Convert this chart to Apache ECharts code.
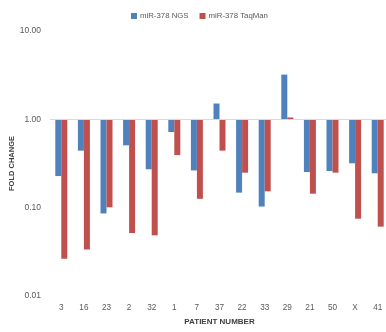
<!DOCTYPE html>
<html>
<head>
<meta charset="utf-8">
<script src="https://cdn.jsdelivr.net/npm/echarts@6/dist/echarts.min.js"></script>
<style>
  html, body { margin: 0; padding: 0; background: #fff; }
  #chart { width: 386px; height: 332px; }
</style>
</head>
<body>
<div id="chart"></div>
<script>
// Patient identifiers along the x axis
const patients = ['3', '16', '23', '2', '32', '1', '7', '37', '22', '33', '29', '21', '50', 'X', '41'];

// Fold change of miR-378 measured by next-generation sequencing
const ngsFold = [0.228, 0.442, 0.086, 0.508, 0.272, 0.719, 0.264, 1.51, 0.148, 0.103, 3.21, 0.253, 0.260, 0.318, 0.245];

// Fold change of miR-378 measured by TaqMan qPCR
const taqmanFold = [0.0264, 0.0337, 0.101, 0.0516, 0.0486, 0.394, 0.126, 0.442, 0.249, 0.153, 1.05, 0.144, 0.249, 0.075, 0.061];

// Log-scale tick values on the fold change axis
const foldTicks = [0.01, 0.1, 1, 10];

const textColor = '#595959';
const fontFamily = '"Liberation Sans", Arial, sans-serif';

const chart = echarts.init(document.getElementById('chart'));
chart.setOption({
  animation: false,
  textStyle: { fontFamily: fontFamily },
  legend: {
    top: 7,
    left: 126,
    itemWidth: 6,
    itemHeight: 6,
    itemGap: 11,
    icon: 'rect',
    textStyle: { fontSize: 7.8, color: textColor, padding: [0, 0, 0, -2] },
    data: ['miR-378 NGS', 'miR-378 TaqMan']
  },
  grid: { left: 50, right: -3, top: 31, bottom: 36, outerBoundsMode: 'none', containLabel: false },
  xAxis: {
    type: 'category',
    data: patients,
    axisLine: { show: false },
    axisTick: { show: false },
    axisLabel: { color: textColor, fontSize: 8.2, margin: 8 },
    name: 'PATIENT NUMBER',
    nameLocation: 'middle',
    nameGap: 22,
    nameMoveOverlap: false,
    nameTextStyle: { color: '#404040', fontSize: 8, fontWeight: 'bold' }
  },
  yAxis: {
    type: 'log',
    logBase: 10,
    min: foldTicks[0],
    max: foldTicks[foldTicks.length - 1],
    axisLine: { show: false },
    axisTick: { show: false },
    splitLine: { show: false },
    axisLabel: {
      color: textColor,
      fontSize: 8.5,
      margin: 9,
      formatter: function (v) { return v.toFixed(2); }
    },
    name: 'FOLD CHANGE',
    nameLocation: 'middle',
    nameGap: 34,
    nameRotate: 90,
    nameMoveOverlap: false,
    nameTextStyle: { color: '#404040', fontSize: 7.5, fontWeight: 'bold' }
  },
  series: [
    {
      name: 'miR-378 NGS',
      type: 'bar',
      data: ngsFold,
      barWidth: 6,
      barGap: '0%',
      itemStyle: { color: '#4F81BD' },
      markLine: {
        silent: true,
        symbol: 'none',
        label: { show: false },
        lineStyle: { color: '#D9D9D9', type: 'solid', width: 1 },
        data: [{ yAxis: 1 }]
      }
    },
    {
      name: 'miR-378 TaqMan',
      type: 'bar',
      data: taqmanFold,
      barWidth: 6,
      barGap: '0%',
      itemStyle: { color: '#C0504D' }
    }
  ]
});
</script>
</body>
</html>
